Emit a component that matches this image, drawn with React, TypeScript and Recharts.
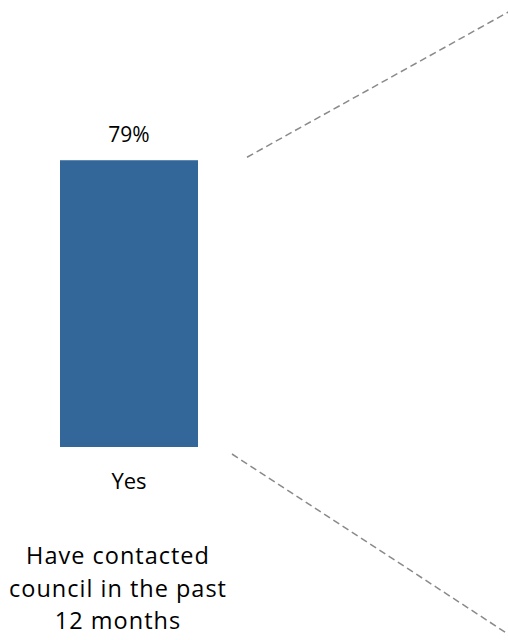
import React from "react";
import { BarChart, Bar, XAxis, YAxis, LabelList, Label } from "recharts";

const categories = ["Yes"];
const values = [79];
const valueLabels = ["79%"];
const titleLines = ["Have contacted", "council in the past", "12 months"];

const data = categories.map((c, i) => ({ name: c, value: values[i], label: valueLabels[i] }));

const FONT = "'Open Sans', sans-serif";
const BAR_COLOR = "#336699";
const DASH_COLOR = "#8a8a8a";

const BarWithConnectors = (props: any) => {
  const { x, y, width, height } = props;
  const right = x + width;
  const bottom = y + height;
  // connector lines toward the (cropped) breakdown chart on the right
  const ux1 = right + 49, uy1 = y - 3;
  const uSlope = -145 / 261;
  const ux2 = ux1 + 320, uy2 = uy1 + uSlope * 320;
  const lx1 = right + 34, ly1 = bottom + 7;
  const lSlope = 180 / 276;
  const lx2 = lx1 + 320, ly2 = ly1 + lSlope * 320;
  return (
    <g>
      <rect x={x} y={y} width={width} height={height} fill={BAR_COLOR} />
      <line x1={ux1} y1={uy1} x2={ux2} y2={uy2} stroke={DASH_COLOR} strokeWidth={1.5} strokeDasharray="7 4" />
      <line x1={lx1} y1={ly1} x2={lx2} y2={ly2} stroke={DASH_COLOR} strokeWidth={1.5} strokeDasharray="7 4" />
    </g>
  );
};

const Tick = (props: any) => {
  const { x, y, payload } = props;
  return (
    <text x={x} y={y} dy={42} textAnchor="middle" fill="#000" fontSize={22} fontFamily={FONT}>
      {payload.value}
    </text>
  );
};

const Title = (props: any) => {
  const vb = props.viewBox || {};
  const cx = vb.x + vb.width / 2 - 11;
  const y0 = vb.y;
  return (
    <g>
      {titleLines.map((t, i) => (
        <text
          key={i}
          x={cx}
          y={y0 + 117 + i * 32.5}
          textAnchor="middle"
          fill="#000"
          fontSize={23.5}
          letterSpacing={1}
          fontFamily={FONT}
        >
          {t}
        </text>
      ))}
    </g>
  );
};

export default function App() {
  return (
    <div style={{ position: "absolute", left: 0, top: 0, width: 508, height: 640, background: "#fff" }}>
      <BarChart
        width={508}
        height={640}
        data={data}
        margin={{ top: 84, right: 310, bottom: 153, left: 60 }}
        barCategoryGap={0}
      >
        <XAxis
          dataKey="name"
          height={40}
          axisLine={false}
          tickLine={false}
          tickSize={0}
          tickMargin={0}
          tick={<Tick />}
          interval={0}
        >
          <Label content={<Title />} />
        </XAxis>
        <YAxis hide domain={[0, 100]} />
        <Bar dataKey="value" isAnimationActive={false} shape={<BarWithConnectors />}>
          <LabelList dataKey="label" position="top" offset={18} fill="#000" fontSize={21} fontFamily={FONT} />
        </Bar>
      </BarChart>
    </div>
  );
}
